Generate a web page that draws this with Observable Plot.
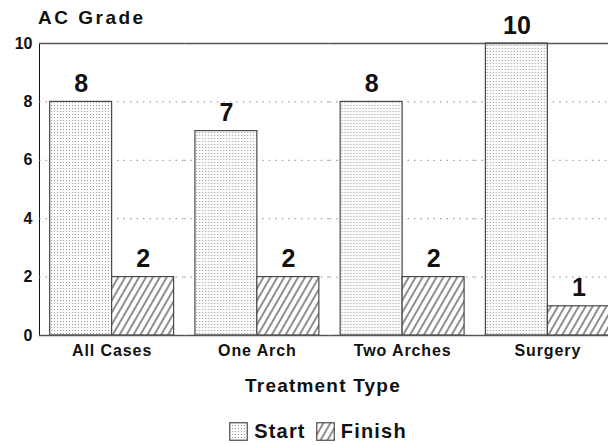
<!DOCTYPE html>
<html>
<head>
<meta charset="utf-8">
<script src="https://cdn.jsdelivr.net/npm/d3@7"></script>
<script src="https://cdn.jsdelivr.net/npm/@observablehq/plot@0.6"></script>
<style>
  html, body { margin: 0; padding: 0; background: #fff; overflow: hidden; }
  #wrap { position: relative; width: 608px; height: 445px; font-family: "Liberation Sans", Arial, Helvetica, sans-serif; color: #111; }
  #title { position: absolute; left: 38px; top: 7px; font-size: 19px; font-weight: bold; letter-spacing: 2.5px; }
  #xlabel { position: absolute; left: 0; width: 646px; text-align: center; top: 375px; font-size: 19px; font-weight: bold; letter-spacing: 1.2px; }
  #legend { position: absolute; left: 0; width: 636px; top: 420px; display: flex; justify-content: center; align-items: center; font-size: 20px; font-weight: bold; letter-spacing: 1.2px; }
  #legend .item { display: flex; align-items: center; margin: 0 5px; }
  #legend svg { margin-right: 6px; }
  #chart svg { max-width: none !important; overflow: visible; }
  #chart g[aria-label="y-axis tick label"] { font-size: 16px !important; font-weight: bold !important; }
  #chart g[aria-label="fx-axis tick label"] { font-size: 16px !important; font-weight: bold !important; letter-spacing: 0.9px; }
</style>
</head>
<body>
<svg width="0" height="0" style="position:absolute">
  <defs>
    <pattern id="dots" patternUnits="userSpaceOnUse" width="3" height="3">
      <rect width="3" height="3" fill="#fbfbfb"></rect>
      <rect width="1" height="1" fill="#9a9a9a"></rect>
    </pattern>
    <pattern id="hatch" patternUnits="userSpaceOnUse" width="6" height="6" patternTransform="rotate(30)">
      <rect width="6" height="6" fill="#fff"></rect>
      <line x1="1" y1="0" x2="1" y2="6" stroke="#333" stroke-width="1.1"></line>
    </pattern>
  </defs>
</svg>
<div id="wrap">
  <div id="chart"></div>
  <div id="title">AC Grade</div>
  <div id="xlabel">Treatment Type</div>
  <div id="legend"></div>
</div>
<script>
const categories = ["All Cases", "One Arch", "Two Arches", "Surgery"];
const seriesNames = ["Start", "Finish"];
const startValues = [8, 7, 8, 10];
const finishValues = [2, 2, 2, 1];
const yTicks = [0, 2, 4, 6, 8, 10];
const gridTicks = [2, 4, 6, 8];
const patterns = ["url(#dots)", "url(#hatch)"];

const data = [];
categories.forEach((c, i) => {
  data.push({category: c, series: "Start", value: startValues[i]});
  data.push({category: c, series: "Finish", value: finishValues[i]});
});

const chart = Plot.plot({
  width: 620,
  height: 370,
  marginLeft: 39,
  marginRight: 0,
  marginTop: 43,
  marginBottom: 35,
  style: {fontFamily: "Liberation Sans, Arial, sans-serif", color: "#111", background: "white", overflow: "visible"},
  fx: {domain: categories, padding: 0, round: false, label: null, axis: "bottom", tickSize: 0, tickPadding: 9},
  x: {domain: seriesNames, paddingInner: 0, paddingOuter: 0.172, round: false, axis: null},
  y: {domain: [0, 10], ticks: yTicks, tickSize: 0, tickPadding: 7, label: null, line: true},
  color: {domain: seriesNames, range: patterns},
  marks: [
    Plot.ruleY(gridTicks, {stroke: "#8a8a8a", strokeDasharray: "1.5,5"}),
    Plot.barY(data, {fx: "category", x: "series", y: "value", fill: "series", stroke: "#4a4a4a", strokeWidth: 1.2}),
    Plot.ruleY([0, 10], {stroke: "#555", strokeWidth: 1.5}),
    Plot.text(data, {fx: "category", x: "series", y: "value", text: d => String(d.value), dy: -18, fontSize: 25, fontWeight: "bold", fill: "#111"})
  ]
});
d3.select(chart).selectAll('[aria-label="y-axis line"], [aria-label="y-axis tick"]').attr("stroke", "#555").attr("stroke-width", 1.5);
document.getElementById("chart").appendChild(chart);

const legend = d3.select("#legend");
seriesNames.forEach((s, i) => {
  const item = legend.append("div").attr("class", "item");
  const sw = item.append("svg").attr("width", 19).attr("height", 19);
  sw.append("rect").attr("x", 0.75).attr("y", 0.75).attr("width", 17.5).attr("height", 17.5)
    .attr("fill", patterns[i]).attr("stroke", "#4a4a4a").attr("stroke-width", 1.2);
  item.append("span").text(s);
});
</script>
</body>
</html>
